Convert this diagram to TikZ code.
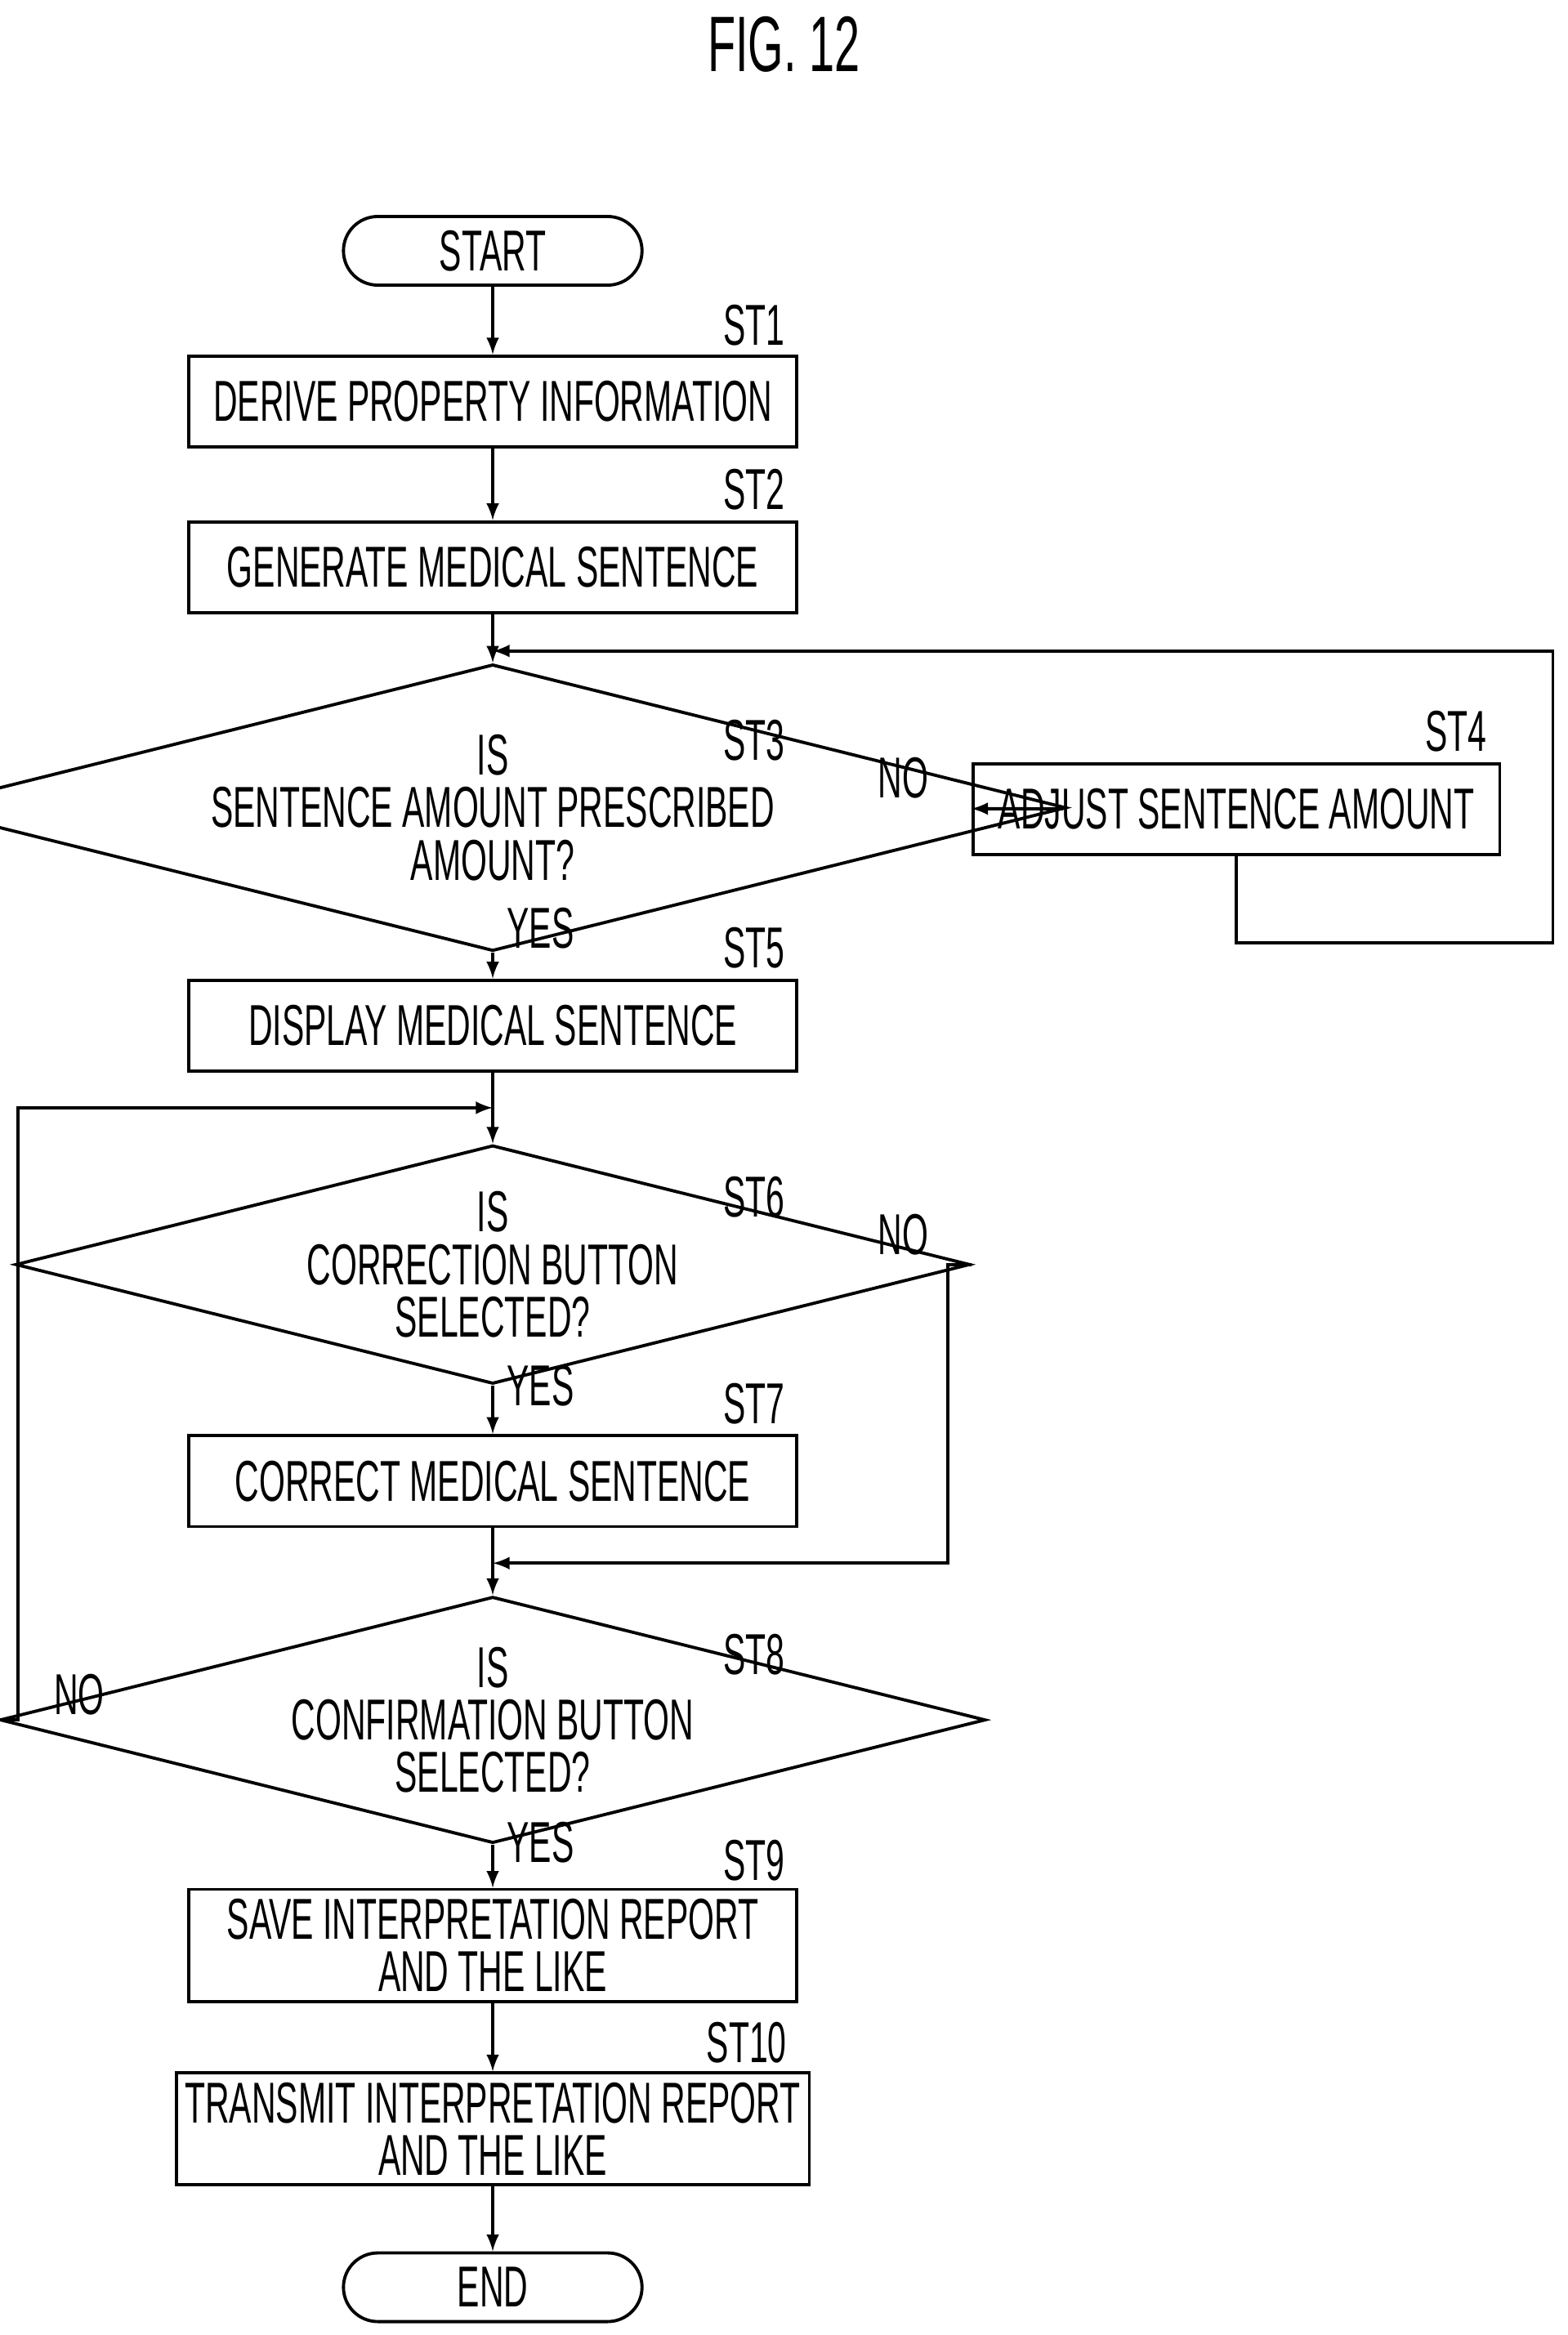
\documentclass[tikz,border=0pt]{standalone}
\usepackage{fontspec}
\setmainfont[FakeStretch=0.58]{Liberation Sans}
\usetikzlibrary{positioning, shapes.geometric}
\tikzset{
  box/.style={draw, line width=1.2pt, minimum width=8.14cm, minimum height=1.22cm, align=center, font=\fontsize{22}{24}\selectfont},
  term/.style={draw, line width=1.2pt, rounded corners=0.46cm, minimum width=4cm, minimum height=0.92cm, font=\fontsize{22}{24}\selectfont},
  dec/.style={draw, line width=1.2pt, diamond, aspect=4, inner sep=0pt, minimum width=10.2cm, minimum height=2.56cm, align=center, font=\fontsize{22}{24}\selectfont},
  lab/.style={font=\fontsize{22}{24}\selectfont},
  line/.style={line width=1.2pt},
  arr/.style={line width=1.2pt, -latex}
}
\begin{document}
\begin{tikzpicture}[x=0.02cm, y=-0.02cm]
  \useasboundingbox (0,0) rectangle (1050,1564);
  \node[font=\fontsize{30}{32}\selectfont] (title) at (525,30) {FIG. 12};
  %Main column
  \node[term] (start) at (330,168) {START};
  \node[box] (st1) at (330,269) {DERIVE PROPERTY INFORMATION};
  \node[box] (st2) at (330,380) {GENERATE MEDICAL SENTENCE};
  \node[dec] (st3) at (330,541) {IS\\[-4pt]SENTENCE AMOUNT PRESCRIBED\\[-4pt]AMOUNT?};
  \node[box, minimum width=7.06cm] (st4) at (828,542) {ADJUST SENTENCE AMOUNT};
  \node[box] (st5) at (330,687) {DISPLAY MEDICAL SENTENCE};
  \node[dec] (st6) at (330,847) {IS\\[-4pt]CORRECTION BUTTON\\[-4pt]SELECTED?};
  \node[box] (st7) at (330,992) {CORRECT MEDICAL SENTENCE};
  \node[dec] (st8) at (330,1152) {IS\\[-4pt]CONFIRMATION BUTTON\\[-4pt]SELECTED?};
  \node[box, minimum height=1.5cm] (st9) at (330,1303) {SAVE INTERPRETATION REPORT\\[-4pt]AND THE LIKE};
  \node[box, minimum height=1.5cm] (st10) at (330,1426) {TRANSMIT INTERPRETATION REPORT\\[-4pt]AND THE LIKE};
  \node[term] (end) at (330,1532) {END};
  %Step labels
  \node[lab] (l1) at (505,218) {ST1};
  \node[lab] (l2) at (505,328) {ST2};
  \node[lab] (l3) at (505,496) {ST3};
  \node[lab] (l4) at (975,490) {ST4};
  \node[lab] (l5) at (505,635) {ST5};
  \node[lab] (l6) at (505,802) {ST6};
  \node[lab] (l7) at (505,940) {ST7};
  \node[lab] (l8) at (505,1108) {ST8};
  \node[lab] (l9) at (505,1246) {ST9};
  \node[lab] (l10) at (500,1368) {ST10};
  %Yes / No
  \node[lab] (n3) at (605,521) {NO};
  \node[lab] (y3) at (362,622) {YES};
  \node[lab] (n6) at (605,827) {NO};
  \node[lab] (y6) at (362,928) {YES};
  \node[lab] (n8) at (53,1135) {NO};
  \node[lab] (y8) at (362,1234) {YES};
  %Junctions
  \coordinate (j1) at (330,436);
  \coordinate (j2) at (330,742);
  \coordinate (j3) at (330,1047);
  \coordinate (c4) at (1040,436);
  %Connectors
  \draw[arr] (start) -- (st1);
  \draw[arr] (st1) -- (st2);
  \draw[arr] (st2) -- (st3);
  \draw[arr] (st3) -- (st4);
  \draw[arr] (st4.south) -- ++(0,58) -| (c4) -- (j1);
  \draw[arr] (st3) -- (st5);
  \draw[arr] (st5) -- (st6);
  \draw[arr] (st6) -- (st7);
  \draw[arr] (st6.east) -- (635,847) |- (j3);
  \draw[arr] (st7) -- (st8);
  \draw[arr] (st8.west) -- (12,1152) |- (j2);
  \draw[arr] (st8) -- (st9);
  \draw[arr] (st9) -- (st10);
  \draw[arr] (st10) -- (end);
\end{tikzpicture}
\end{document}
